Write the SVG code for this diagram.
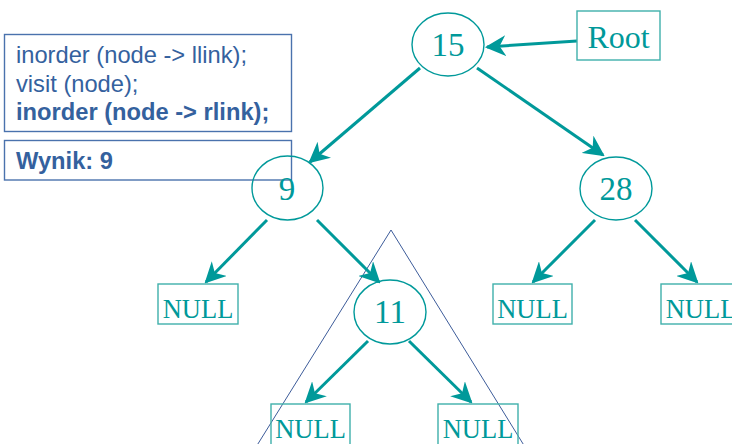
<svg xmlns="http://www.w3.org/2000/svg" width="732" height="444" viewBox="0 0 732 444">
  <style>
    .node ellipse { fill: none; stroke: #00999a; stroke-width: 1.4; }
    .leaf rect { fill: none; stroke: #3fb0ab; stroke-width: 1.4; }
    .lbl { font-family: "Liberation Serif", "Times New Roman", serif; fill: #00999a; text-anchor: middle; }
    .edge { stroke: #00999a; stroke-width: 3; fill: none; marker-end: url(#head); }
    .code { font-family: "Liberation Sans", Arial, sans-serif; font-size: 23.7px; fill: #34619e; }
    .panel { fill: none; stroke: #4a72ad; stroke-width: 1.4; }
  </style>
  <defs>
    <marker id="head" viewBox="0 0 10 10" refX="9" refY="5" markerWidth="7" markerHeight="7" orient="auto" markerUnits="strokeWidth">
      <path d="M0,0 L10,5 L0,10 L3,5 z" fill="#00999a"/>
    </marker>
  </defs>

  <!-- code panel -->
  <g id="code">
    <rect class="panel" x="4.5" y="34.5" width="287" height="97"/>
    <text class="code" x="16" y="63">inorder (node -&gt; llink);</text>
    <text class="code" x="16" y="92">visit (node);</text>
    <text class="code" x="16" y="120" font-weight="bold">inorder (node -&gt; rlink);</text>
  </g>
  <g id="result">
    <rect class="panel" x="4.5" y="140.5" width="287" height="39.5"/>
    <text class="code" x="16" y="169" font-weight="bold">Wynik: 9</text>
  </g>

  <!-- subtree outline -->
  <path d="M391,230 L256,447 M391,230 L525,447" fill="none" stroke="#3d5c9a" stroke-width="1"/>

  <!-- connectors -->
  <g id="edges">
    <line class="edge" x1="420" y1="68" x2="310" y2="162"/>
    <line class="edge" x1="477" y1="68" x2="603" y2="155"/>
    <line class="edge" x1="267" y1="220" x2="206" y2="282"/>
    <line class="edge" x1="317" y1="220" x2="379" y2="282"/>
    <line class="edge" x1="595" y1="220" x2="533" y2="282"/>
    <line class="edge" x1="635" y1="220" x2="697" y2="282"/>
    <line class="edge" x1="368" y1="341" x2="306" y2="402"/>
    <line class="edge" x1="409" y1="341" x2="471" y2="402"/>
    <line class="edge" x1="577" y1="41" x2="487" y2="47" stroke-width="1.3"/>
  </g>

  <g id="root">
    <rect x="577" y="11" width="83" height="49" fill="none" stroke="#3fb0ab" stroke-width="1.4"/>
    <text class="lbl" x="618.5" y="48" font-size="32">Root</text>
  </g>

  <g id="n15" class="node">
    <ellipse cx="448" cy="44.5" rx="36" ry="31.5"/>
    <text class="lbl" x="448" y="56" font-size="33">15</text>
  </g>
  <g id="n9" class="node">
    <ellipse cx="287.5" cy="188" rx="35.5" ry="32"/>
    <text class="lbl" x="287" y="200" font-size="33">9</text>
  </g>
  <g id="n28" class="node">
    <ellipse cx="616" cy="188.5" rx="36" ry="31.5"/>
    <text class="lbl" x="616" y="200" font-size="33">28</text>
  </g>
  <g id="n11" class="node">
    <ellipse cx="390" cy="312" rx="36" ry="32"/>
    <text class="lbl" x="390" y="323" font-size="33">11</text>
  </g>

  <g id="null9l" class="leaf">
    <rect x="158" y="284" width="80" height="40"/>
    <text class="lbl" x="198" y="318" font-size="26.5">NULL</text>
  </g>
  <g id="null28l" class="leaf">
    <rect x="493" y="284" width="79" height="40"/>
    <text class="lbl" x="532.5" y="318" font-size="26.5">NULL</text>
  </g>
  <g id="null28r" class="leaf">
    <rect x="661" y="284" width="80" height="40"/>
    <text class="lbl" x="701" y="318" font-size="26.5">NULL</text>
  </g>
  <g id="null11l" class="leaf">
    <rect x="271" y="404" width="79" height="42"/>
    <text class="lbl" x="310.5" y="438" font-size="26.5">NULL</text>
  </g>
  <g id="null11r" class="leaf">
    <rect x="438" y="404" width="80" height="42"/>
    <text class="lbl" x="478" y="438" font-size="26.5">NULL</text>
  </g>
</svg>
